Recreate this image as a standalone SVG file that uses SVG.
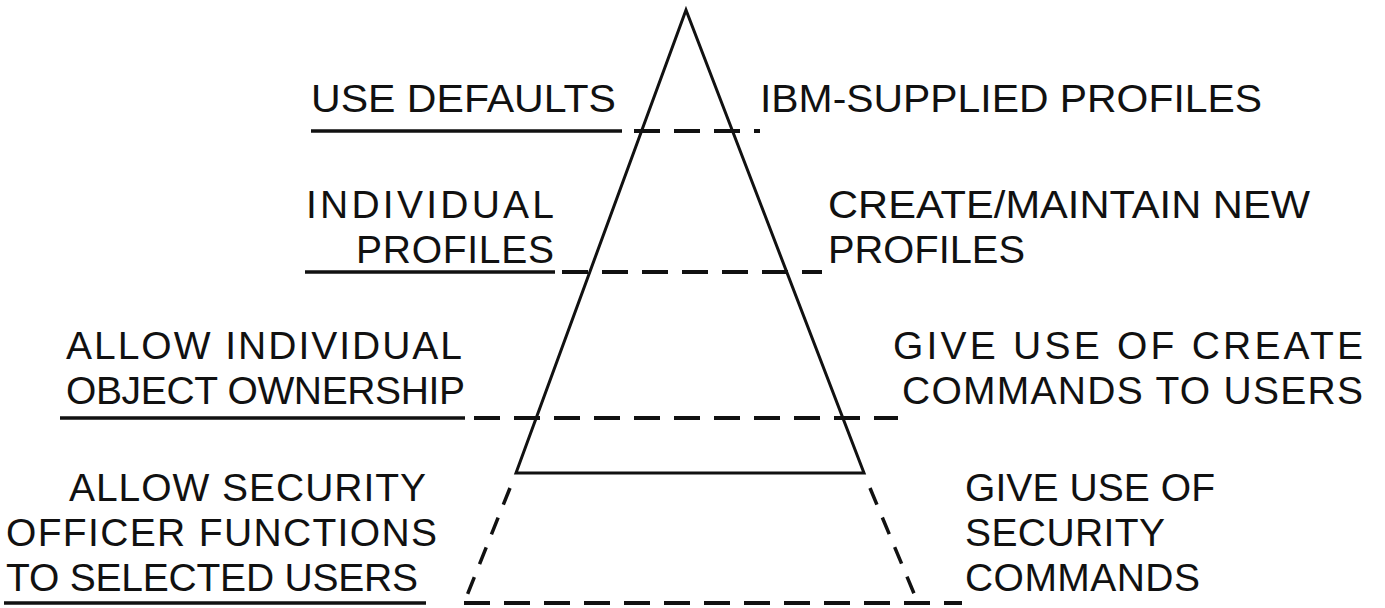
<svg xmlns="http://www.w3.org/2000/svg" width="1385" height="608" viewBox="0 0 1385 608">
<style>
text{font-family:"Liberation Sans",Arial,sans-serif;font-size:39px;fill:#111;}
.solid{stroke:#111;stroke-width:3;fill:none;stroke-linecap:round;}
.ul{stroke:#111;stroke-width:3.5;fill:none;}
.dash{stroke:#111;stroke-width:4;fill:none;stroke-dasharray:26 14;}
.sdash{stroke:#111;stroke-width:3.5;fill:none;stroke-dasharray:18 14;}
</style>
<rect width="1385" height="608" fill="#fff"/>
<g id="pyramid">
<path class="solid" d="M516 473 L686 10 L864 473 Z"/>
<line class="sdash" x1="510" y1="488" x2="464" y2="603"/>
<line class="sdash" x1="870" y1="488" x2="918" y2="603"/>
</g>
<g id="connectors">
<line class="ul" x1="311" y1="131" x2="622" y2="131"/>
<line class="dash" x1="634" y1="131" x2="760" y2="131"/>
<line class="ul" x1="305" y1="272" x2="555" y2="272"/>
<line class="dash" x1="562" y1="272" x2="822" y2="272"/>
<line class="ul" x1="60" y1="418" x2="465" y2="418"/>
<line class="dash" x1="474" y1="418" x2="898" y2="418"/>
<line class="ul" x1="4" y1="603" x2="426" y2="603"/>
<line class="dash" x1="464" y1="603" x2="962" y2="603"/>
</g>
<g id="level1-left"><text x="311" y="112" textLength="305" lengthAdjust="spacingAndGlyphs">USE DEFAULTS</text></g>
<g id="level1-right"><text x="760" y="112" textLength="502" lengthAdjust="spacingAndGlyphs">IBM-SUPPLIED PROFILES</text></g>
<g id="level2-left">
<text x="306" y="218" textLength="248" lengthAdjust="spacing">INDIVIDUAL</text>
<text x="356" y="263" textLength="198" lengthAdjust="spacing">PROFILES</text>
</g>
<g id="level2-right">
<text x="828" y="218" textLength="482" lengthAdjust="spacingAndGlyphs">CREATE/MAINTAIN NEW</text>
<text x="828" y="263" textLength="197" lengthAdjust="spacingAndGlyphs">PROFILES</text>
</g>
<g id="level3-left">
<text x="66" y="359" textLength="396" lengthAdjust="spacing">ALLOW INDIVIDUAL</text>
<text x="66" y="404" textLength="399" lengthAdjust="spacing">OBJECT OWNERSHIP</text>
</g>
<g id="level3-right">
<text x="893" y="359" textLength="470" lengthAdjust="spacing">GIVE USE OF CREATE</text>
<text x="902" y="404" textLength="461" lengthAdjust="spacing">COMMANDS TO USERS</text>
</g>
<g id="level4-left">
<text x="69" y="501" textLength="357" lengthAdjust="spacing">ALLOW SECURITY</text>
<text x="6" y="546" textLength="431" lengthAdjust="spacing">OFFICER FUNCTIONS</text>
<text x="6" y="591" textLength="412" lengthAdjust="spacing">TO SELECTED USERS</text>
</g>
<g id="level4-right">
<text x="965" y="501" textLength="250" lengthAdjust="spacing">GIVE USE OF</text>
<text x="965" y="546" textLength="200" lengthAdjust="spacing">SECURITY</text>
<text x="965" y="591" textLength="235" lengthAdjust="spacing">COMMANDS</text>
</g>
</svg>
